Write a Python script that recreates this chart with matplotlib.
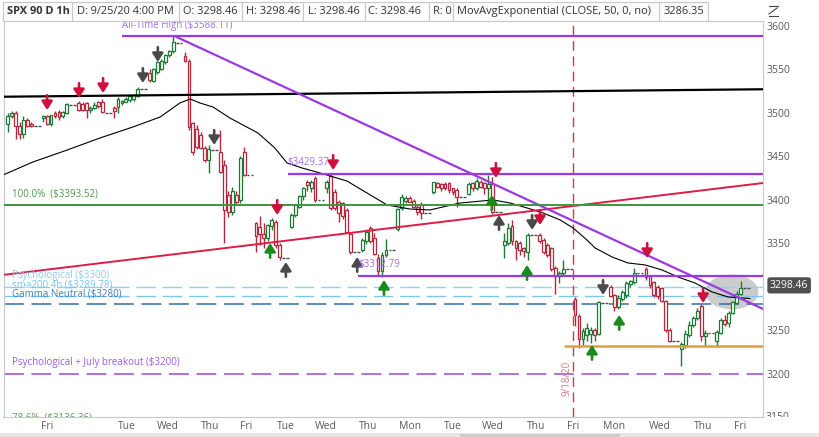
import matplotlib

matplotlib.use("Agg")
import matplotlib.pyplot as plt
import numpy as np
from matplotlib.lines import Line2D
from matplotlib.patches import Ellipse, FancyArrowPatch, Rectangle
from matplotlib.transforms import Bbox, TransformedBbox

# ── data: SPX hourly candles, 7 regular-hours bars per day (8/27 .. 9/25) ──
DAYS = ["8/27", "8/28", "8/31", "9/1", "9/2", "9/3", "9/4", "9/8", "9/9", "9/10", "9/11",
        "9/14", "9/15", "9/16", "9/17", "9/18", "9/21", "9/22", "9/23", "9/24", "9/25"]
OPEN = [
    3487, 3496, 3500, 3485, 3476, 3492, 3487,
    3494, 3496, 3487, 3500, 3501, 3496, 3500,
    3511, 3510, 3511, 3503, 3506, 3512, 3513,
    3506, 3507, 3511, 3513, 3515, 3516, 3519,
    3546, 3537, 3547, 3551, 3559, 3567, 3571,
    3566, 3560, 3488, 3482, 3475, 3460, 3446,
    3455, 3440, 3405, 3386, 3405, 3400, 3455,
    3373, 3369, 3361, 3356, 3370, 3375, 3348,
    3369, 3383, 3392, 3404, 3420, 3413, 3425,
    3413, 3427, 3409, 3398, 3396, 3388, 3361,
    3342, 3352, 3367, 3356, 3333, 3318, 3336,
    3366, 3390, 3399, 3402, 3399, 3392, 3394,
    3409, 3419, 3418, 3418, 3419, 3413, 3411,
    3407, 3419, 3413, 3421, 3419, 3413, 3418,
    3348, 3350, 3370, 3352, 3350, 3344, 3340,
    3360, 3354, 3348, 3344, 3322, 3312, 3316,
    3286, 3266, 3240, 3244, 3245, 3250, 3246,
    3300, 3290, 3277, 3286, 3290, 3303, 3305,
    3320, 3312, 3305, 3300, 3298, 3283, 3250,
    3228, 3233, 3244, 3256, 3264, 3278, 3243,
    3238, 3247, 3262, 3258, 3270, 3281, 3292,
]
HIGH = [
    3500, 3502, 3502, 3490, 3496, 3494, 3490,
    3497, 3498, 3498, 3502, 3503, 3502, 3511,
    3514, 3512, 3512, 3508, 3512, 3514, 3516,
    3508, 3518, 3515, 3518, 3520, 3522, 3530,
    3551, 3552, 3560, 3562, 3568, 3572, 3588.11,
    3570, 3562, 3490, 3486, 3478, 3462, 3463,
    3480, 3446, 3410, 3415, 3410, 3450, 3461,
    3375, 3381, 3373, 3372, 3379, 3377, 3350,
    3385, 3395, 3405, 3415, 3423, 3423, 3427,
    3423, 3430, 3412, 3400, 3398, 3390, 3363,
    3356, 3366, 3370, 3362, 3338, 3340, 3355,
    3390, 3407, 3404, 3404, 3401, 3394, 3398,
    3421, 3420, 3419, 3420, 3420, 3414, 3413,
    3420, 3421, 3425, 3423, 3421, 3429, 3426,
    3362, 3373, 3377, 3354, 3352, 3346, 3362,
    3362, 3356, 3350, 3346, 3324, 3318, 3331,
    3288, 3268, 3252, 3258, 3254, 3252, 3284,
    3302, 3292, 3290, 3296, 3306, 3308, 3321,
    3323, 3314, 3307, 3302, 3300, 3285, 3252,
    3236, 3250, 3260, 3266, 3276, 3280, 3250,
    3250, 3264, 3267, 3272, 3284, 3295, 3306,
]
LOW = [
    3478, 3494, 3470, 3470, 3471, 3484, 3484,
    3490, 3486, 3485, 3494, 3492, 3494, 3499,
    3502, 3502, 3494, 3500, 3505, 3506, 3500,
    3494, 3500, 3509, 3512, 3513, 3514, 3518,
    3535, 3535, 3545, 3549, 3556, 3564, 3569,
    3558, 3480, 3452, 3458, 3458, 3443, 3431,
    3431, 3350, 3380, 3382, 3395, 3396, 3427,
    3340, 3348, 3344, 3352, 3365, 3344, 3331,
    3367, 3380, 3390, 3400, 3410, 3409, 3398,
    3408, 3388, 3388, 3375, 3378, 3362, 3338,
    3340, 3349, 3350, 3336, 3312, 3311, 3334,
    3364, 3388, 3396, 3397, 3390, 3383, 3378,
    3407, 3413, 3410, 3411, 3408, 3405, 3392,
    3405, 3410, 3411, 3413, 3407, 3397, 3384,
    3333, 3348, 3348, 3331, 3336, 3334, 3331,
    3350, 3338, 3334, 3318, 3292, 3304, 3314,
    3255, 3230, 3232, 3238, 3235, 3238, 3244,
    3288, 3272, 3274, 3284, 3287, 3300, 3303,
    3308, 3299, 3288, 3286, 3282, 3248, 3236,
    3209, 3230, 3242, 3254, 3262, 3238, 3232,
    3231, 3245, 3255, 3254, 3268, 3280, 3291,
]
CLOSE = [
    3496, 3500, 3485, 3476, 3492, 3485, 3485,
    3496, 3487, 3497, 3496, 3495, 3501, 3510,
    3503, 3503, 3503, 3506, 3509, 3508, 3501,
    3502, 3516, 3514, 3516, 3519, 3521, 3528,
    3538, 3550, 3559, 3560, 3567, 3571, 3582,
    3560, 3484, 3455, 3461, 3460, 3446, 3458,
    3432, 3388, 3386, 3410, 3398, 3448, 3429,
    3358, 3361, 3356, 3371, 3377, 3348, 3334,
    3383, 3394, 3404, 3413, 3417, 3420, 3400,
    3420, 3390, 3390, 3385, 3381, 3363, 3340,
    3354, 3363, 3352, 3338, 3318, 3336, 3342,
    3389, 3403, 3402, 3398, 3392, 3386, 3385,
    3420, 3415, 3413, 3413, 3411, 3409, 3403,
    3418, 3413, 3422, 3415, 3414, 3418, 3386,
    3352, 3368, 3352, 3344, 3342, 3341, 3360,
    3352, 3340, 3336, 3320, 3312, 3316, 3320,
    3267, 3240, 3249, 3252, 3250, 3244, 3282,
    3289, 3277, 3287, 3294, 3304, 3306, 3316,
    3311, 3302, 3290, 3289, 3283, 3250, 3238,
    3234, 3245, 3256, 3264, 3272, 3243, 3247,
    3248, 3262, 3257, 3270, 3282, 3292, 3298.46,
]
# two flat after-hours bars per day (O=H=L=C)
FLAT = [3485, 3509, 3500, 3527, 3581, 3457, 3429, 3333, 3400, 3340, 3342,
        3385, 3403, 3386, 3359, 3320, 3281, 3316, 3237, 3247, 3298.46]

# MovAvgExponential(CLOSE, 50) (bar index, price)
EMA_BAR = [-1.2, 6.4, 15.1, 23.4, 31.8, 38.7, 43.7, 46.3, 48.8, 52.1, 56.4, 63.5, 67.8,
           70.9, 74.7, 79.3, 86.1, 91.2, 96.3, 102.1, 107.2, 114.8, 123.2, 127.5, 131.8,
           135.9, 140.2, 143.5, 147.0, 149.1, 153.4, 157.4, 161.8, 166.1, 170.1, 174.4,
           178.8, 182.8, 186.4, 188.4]
EMA_PX = [3428.5, 3443.5, 3457.3, 3471.1, 3483.8, 3495.3, 3511.4, 3516.0, 3511.4, 3506.8,
          3494.1, 3476.9, 3459.6, 3442.4, 3436.6, 3430.8, 3421.6, 3407.8, 3394.0, 3389.4,
          3388.3, 3396.3, 3399.8, 3396.3, 3390.6, 3384.8, 3376.8, 3367.6, 3353.8, 3344.5,
          3334.2, 3327.3, 3325.0, 3319.2, 3311.2, 3304.3, 3293.9, 3288.2, 3287.0, 3286.35]

# signal arrows: bar index, tip price, kind
ARROW_BAR = [10.0, 18.1, 24.2, 34.3, 38.1, 52.4, 68.4, 66.6, 70.6, 82.6, 88.7, 95.5,
             123.9, 122.9, 124.7, 133.1, 135.1, 131.8, 162.3, 151.1, 155.2, 148.3, 176.5]
ARROW_TIP = [3503.3, 3517.1, 3522.9, 3534.4, 3558.6, 3463.1, 3382.5, 3350.3, 3328.4,
             3434.3, 3334.2, 3307.7, 3425.1, 3405.5, 3382.5, 3365.3, 3371.0, 3325.0,
             3333.0, 3290.5, 3267.5, 3233.0, 3281.3]
ARROW_KIND = ["sell", "sell", "sell", "exit", "exit", "exit", "sell", "buy", "cover", "sell",
              "cover", "buy", "sell", "buy", "cover", "exit", "sell", "buy", "sell", "exit",
              "buy", "buy", "sell"]

# drawn levels
ATH = 3588.11
LVL_HIGH = 3429.37
LVL_LOW = 3312.79
FIB_100 = 3393.52
PSYCH = 3300
SMA200_4H = 3289.78
GAMMA = 3280
JULY = 3200
SUPPORT = 3232
BLACK_TREND = ([-1.2, 191.7], [3518.6, 3527.2])
RED_TREND = ([-1.2, 191.7], [3313.5, 3419.3])
PURPLE_TREND = ([42.5, 191.7], [3588.11, 3274.4])
EXPIRY_BAR = 143.6

XTICK_BARS = [10.0, 30.3, 40.7, 51.4, 60.5, 70.6, 80.8, 91.4, 102.1, 113.0, 123.2, 134.1,
              143.5, 153.9, 165.6, 176.5, 185.9]
XTICK_LABELS = ["Fri", "Tue", "Wed", "Thu", "Fri", "Tue", "Wed", "Thu", "Mon", "Tue", "Wed",
                "Thu", "Fri", "Mon", "Wed", "Thu", "Fri"]
YTICKS = [3200, 3250, 3350, 3400, 3450, 3500, 3550, 3600]

HEADER = [("SPX 90 D 1h", 7, "bold"), ("D: 9/25/20 4:00 PM", 77, "normal"),
          ("O: 3298.46", 183, "normal"), ("H: 3298.46", 246, "normal"),
          ("L: 3298.46", 308, "normal"), ("C: 3298.46", 368, "normal"),
          ("R: 0", 433, "normal"), ("MovAvgExponential (CLOSE, 50, 0, no)", 457, "normal"),
          ("3286.35", 663, "normal")]
HEADER_DIVS = [72, 179, 242, 303, 365, 429, 453, 659]

W, H = 819, 437
plt.rcParams["font.family"] = ["Open Sans", "DejaVu Sans"]

PURPLE = "#9b38e8"
LABEL_PURPLE = "#a46ee6"
UP = "#1d7a34"
DOWN = "#b3283c"
ARROW_COL = {"sell": "#d0103c", "exit": "#4a4a4a", "buy": "#1a8a1a", "cover": "#4a4a4a"}


def fx(px):
    return px / W


def fy(py):
    return 1 - py / H


fig = plt.figure(figsize=(W / 100, H / 100), dpi=100)
fig.patch.set_facecolor("white")
ax = fig.add_axes([fx(3.5), fy(416.5), fx(763) - fx(3.5), fy(22) - fy(416.5)])
ax.set_xlim(-1.07, 191.7)
ax.set_ylim(3150.6, 3604.6)

# ── candles ──────────────────────────────────────────────────────────────────
o, h, l, c = (np.array(a, dtype=float) for a in (OPEN, HIGH, LOW, CLOSE))
bars = np.array([d * 9 + k for d in range(len(DAYS)) for k in range(7)])
cols = np.where(c >= o, UP, DOWN)
ax.vlines(bars, l, h, colors=cols, lw=1.0, zorder=3)
ax.bar(bars, np.maximum(np.abs(c - o), 0.9), bottom=np.minimum(o, c), width=0.72,
       facecolor="white", edgecolor=cols, linewidth=0.9, zorder=3.2)
flat_bars = np.array([d * 9 + k for d in range(len(DAYS)) for k in (7, 8)])
flat_px = np.repeat(FLAT, 2)
ax.hlines(flat_px, flat_bars - 0.35, flat_bars + 0.35, color="#4a4a4a", lw=1.0, zorder=3)

ax.plot(EMA_BAR, EMA_PX, color="black", lw=0.8, zorder=3.5)

ax.add_patch(Ellipse((183.8, 3293.9), 13.5, 40, facecolor="#c4c4c4", edgecolor="none",
                     alpha=0.85, zorder=2))

# ── drawings ────────────────────────────────────────────────────────────────
ax.plot(*BLACK_TREND, color="black", lw=1.6, zorder=4)
ax.plot(*RED_TREND, color="#dc1e46", lw=1.4, zorder=4)
ax.plot(*PURPLE_TREND, color=PURPLE, lw=1.6, zorder=4)
ax.hlines(ATH, 29.1, 191.7, color=PURPLE, lw=1.6, zorder=4)
ax.hlines(LVL_HIGH, 71.1, 191.7, color=PURPLE, lw=1.6, zorder=4)
ax.hlines(LVL_LOW, 88.9, 191.7, color=PURPLE, lw=1.6, zorder=4)
ax.axhline(FIB_100, color="#3a993a", lw=1.4, zorder=4)
ax.hlines(SUPPORT, 141.2, 191.7, color="#d9a13a", lw=1.8, zorder=4)
ax.axhline(PSYCH, color="#90d0f0", lw=1.0, dashes=(14, 5), zorder=2.5)
ax.axhline(SMA200_4H, color="#7cc6ea", lw=1.0, dashes=(14, 5), zorder=2.5)
ax.axhline(GAMMA, color="#2f6fa8", lw=1.1, dashes=(13, 5), zorder=2.5)
ax.axhline(JULY, color="#9a48e0", lw=1.1, dashes=(13, 5), zorder=2.5)
ax.axvline(EXPIRY_BAR, color="#c0404e", lw=1.0, dashes=(7, 4), zorder=2.5)

for b, tip, kind in zip(ARROW_BAR, ARROW_TIP, ARROW_KIND):
    tail = tip + 17 if kind in ("sell", "exit") else tip - 17
    ax.add_patch(FancyArrowPatch((b, tail), (b, tip),
                                 arrowstyle="-|>,head_width=0.32,head_length=0.5",
                                 mutation_scale=10, lw=1.9, color=ARROW_COL[kind],
                                 shrinkA=0, shrinkB=0, zorder=5))

# ── level labels ────────────────────────────────────────────────────────────
lab = dict(fontsize=7, va="center", ha="left", zorder=6)
labels = [
    (29.1, 3600.6, "All-Time High ($3588.11)", LABEL_PURPLE),
    (71.1, 3442.4, "$3429.37", LABEL_PURPLE),
    (88.9, 3326.1, "$3312.79", LABEL_PURPLE),
    (1.1, 3406.7, "100.0%  ($3393.52)", "#4e9a4e"),
    (1.1, 3312.3, "Psychological ($3300)", "#8ccbf2"),
    (1.1, 3302.0, "sma200 4h ($3289.78)", "#7cc4ec"),
    (1.1, 3291.6, "Gamma Neutral ($3280)", "#3f7fbf"),
    (1.1, 3212.2, "Psychological + July breakout ($3200)", "#a05ade"),
    (1.1, 3148.5, "78.6%  ($3136.36)", "#5a9a5a"),
]
for bx, py, s, col in labels:
    t = ax.text(bx, py, s, color=col, **lab)
    t.set_clip_box(ax.bbox)
    t.set_clip_on(True)
ax.text(142.0, 3195, "9/18/20", color="#d27a86", fontsize=7, rotation=90,
        ha="center", va="center", zorder=6)

# ── axes styling ────────────────────────────────────────────────────────────
ax.spines["top"].set_visible(False)
for side in ("left", "right", "bottom"):
    ax.spines[side].set_color("#c8c8c8")
    ax.spines[side].set_linewidth(0.8)
ax.yaxis.tick_right()
ax.set_yticks(YTICKS)
ax.set_yticklabels([str(v) for v in YTICKS])
ax.tick_params(axis="y", length=0, pad=2.5, labelsize=7.5, labelcolor="#5a5a5a")
ax.set_xticks(XTICK_BARS)
ax.set_xticklabels(XTICK_LABELS)
ax.tick_params(axis="x", length=0, pad=3, labelsize=7.5, labelcolor="#5a5a5a")

t3150 = fig.text(fx(766), fy(417), "3150", fontsize=7.5, color="#5a5a5a", va="center")
t3150.set_clip_box(TransformedBbox(Bbox([[fx(763), fy(416.5)], [1, 1]]), fig.transFigure))
t3150.set_clip_on(True)

ax.annotate("3298.46", xy=(1, 3301.5), xycoords=("axes fraction", "data"), xytext=(5, 0),
            textcoords="offset points", ha="left", va="center", fontsize=7.5, color="white",
            bbox=dict(boxstyle="round,pad=0.25", fc="#505050", ec="none"),
            annotation_clip=False, zorder=10)

# ── header strip ────────────────────────────────────────────────────────────
fig.add_artist(Rectangle((fx(3), fy(21)), fx(708) - fx(3), fy(2) - fy(21),
                         transform=fig.transFigure, fc="#fbfbfb", ec="#c8c8c8", lw=0.8))
fig.add_artist(Line2D([fx(708), fx(763)], [fy(21), fy(21)], transform=fig.transFigure,
                      color="#c8c8c8", lw=0.8))
for px in HEADER_DIVS:
    fig.add_artist(Line2D([fx(px), fx(px)], [fy(2), fy(21)], transform=fig.transFigure,
                          color="#c8c8c8", lw=0.8))
for text, px, weight in HEADER:
    fig.text(fx(px), fy(11.5), text, ha="left", va="center", fontsize=7.9,
             color="#333333", fontweight=weight)

# small chart-settings glyph top right
for xs, ys in (([769, 778], [6, 6]), ([769, 777], [14, 8]), ([769, 778], [16, 16])):
    fig.add_artist(Line2D([fx(v) for v in xs], [fy(v) for v in ys],
                          transform=fig.transFigure, color="#444444", lw=0.8))

# scroll bar at the bottom
fig.add_artist(Rectangle((0, 0), 1, fy(433), transform=fig.transFigure,
                         fc="#e6e6e6", ec="none"))
fig.add_artist(Rectangle((fx(460), 0), fx(620) - fx(460), fy(434), transform=fig.transFigure,
                         fc="#cdcdcd", ec="none"))

fig.savefig("out.png", dpi=100)
